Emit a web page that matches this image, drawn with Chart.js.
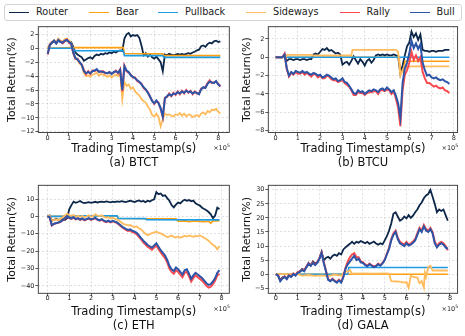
<!DOCTYPE html>
<html lang="en">
<head>
<meta charset="UTF-8">
<title>Total Return</title>
<script src="https://cdn.jsdelivr.net/npm/chart.js"></script>
<style>
  body { margin: 0; width: 465px; height: 336px; background: #fff; position: relative; overflow: hidden; font-family: "DejaVu Sans", sans-serif; }
  #legend { position: absolute; left: 4px; top: 4px; width: 456px; height: 15px; border: 1px solid #d4d4d4; border-radius: 3px; background: #fff; }
  #legend .item { position: absolute; top: 0; line-height: 14.6px; font-size: 9.7px; color: #222; white-space: nowrap; }
  #legend .item i { position: absolute; left: -27px; top: 6.6px; width: 20px; height: 1.6px; }
  canvas { position: absolute; }
</style>
</head>
<body>

<div id="legend"></div>
<canvas id="chartA" width="235" height="150" style="left:0;top:22px"></canvas>
<canvas id="chartB" width="230" height="150" style="left:235px;top:22px"></canvas>
<canvas id="chartC" width="235" height="164" style="left:0;top:172px"></canvas>
<canvas id="chartD" width="230" height="164" style="left:235px;top:172px"></canvas>

<script>
// ---- data (x in units of 1e5 s, y in %) ----
const seriesNames = ['Router', 'Bear', 'Pullback', 'Sideways', 'Rally', 'Bull'];
const xTicks = [0, 1, 2, 3, 4, 5, 6, 7, 8];

// (a) BTCT
const tA = [0,0.1,0.2,0.3,0.4,0.5,0.6,0.7,0.8,0.9,1,1.1,1.2,1.3,1.4,1.5,1.6,1.7,1.8,1.9,2,2.1,2.2,2.3,2.4,2.5,2.6,2.7,2.8,2.9,3,3.1,3.2,3.3,3.4,3.5,3.6,3.7,3.8,3.9,4,4.1,4.2,4.3,4.4,4.5,4.6,4.7,4.8,4.9,5,5.1,5.2,5.3,5.4,5.5,5.6,5.7,5.8,5.9,6,6.1,6.2,6.3,6.4,6.5,6.6,6.7,6.8,6.9,7,7.1,7.2,7.3,7.4,7.5,7.6,7.7,7.8,7.9,8,8.1];
const routerA = [0,0.5,0.8,1.0,0.7,1.1,0.9,0.8,1.0,1.2,1.0,0.9, 0.2,-0.6,-0.9,-1.1,-1.3,-1.8,-1.6,-1.4,-1.3,-1.5,-1.1,-0.9, -1.0,-0.8,-0.9,-0.7,-0.8,-0.6,-0.7,-0.5,-0.6,-0.4,-0.3,-0.4, 1.4,2.0,2.2,1.7,1.9,1.8,1.9,1.5,0.4,-1.0,-0.7,-1.2, -0.9,-1.3,-1.5,-1.2,-1.6,-2.0,-3.3,-0.9,-1.0,-0.8,-0.9,-1.0, -0.9,-0.8,-0.9,-0.8,-0.9,-0.8,-0.7,-0.8,-0.6,-0.5,-0.3,-0.2, 0.3,0.4,0.2,0.6,0.8,0.7,1.0,1.1,0.9,1.0];
const sidewaysA = [0,0.6,0.9,1.2,0.9,1.4,1.1,1.0,1.3,1.4,1.1,0.8, -0.5,-1.5,-1.7,-2.2,-2.5,-3.6,-4.0,-3.9,-4.1,-3.8,-3.7,-3.5, -3.9,-3.7,-3.8,-3.9,-4.1,-3.9,-4.2,-3.9,-3.8,-4.0,-3.6,-7.3, -4.8,-5.4,-5.2,-5.8,-5.6,-6.2,-6.5,-6.8,-7.3,-7.6,-7.8,-8.4, -8.8,-9.6,-9.8,-9.4,-9.9,-11.2,-10.2,-9.4,-9.6,-9.5,-9.7,-9.8, -9.5,-9.6,-9.3,-9.7,-9.4,-9.8,-9.5,-9.6,-9.9,-9.7,-9.6,-9.8, -9.4,-9.2,-9.5,-9.0,-9.2,-8.8,-8.9,-8.7,-9.1,-9.4];
const rallyA = [-0.9,0.4,0.9,1.0,0.8,1.1,1.0,0.7,1.0,1.3,0.8,0.6, -0.7,-1.5,-1.5,-2.1,-2.3,-3.1,-3.7,-3.3,-3.7,-3.2,-3.3,-3.1, -3.3,-3.4,-3.3,-3.6,-3.5,-3.5,-3.6,-3.5,-3.2,-3.6,-3.0,-6.2, -2.5,-3.3,-3.5,-3.8,-4.2,-4.2,-4.7,-4.9,-5.1,-5.7,-6.0,-6.3, -7.0,-7.5,-8.0,-7.6,-7.8,-8.7,-9.9,-7.1,-7.0,-6.5,-6.9,-6.4, -6.7,-6.2,-6.6,-6.1,-6.5,-6.0,-6.4,-6.1,-6.6,-6.2,-6.5,-6.5, -5.8,-5.7,-5.6,-5.0,-4.6,-5.0,-4.9,-4.8,-5.1,-5.5];
const bullA = [-0.8,0.5,0.8,1.1,0.7,1.2,0.9,0.8,1.1,1.2,0.9,0.7, -0.6,-1.4,-1.6,-2.0,-2.4,-3.3,-3.6,-3.4,-3.6,-3.3,-3.2,-3.0, -3.4,-3.3,-3.4,-3.5,-3.6,-3.4,-3.7,-3.4,-3.3,-3.5,-3.1,-6.0, -2.6,-3.2,-3.4,-3.9,-4.1,-4.3,-4.6,-4.8,-5.2,-5.6,-5.9,-6.4, -6.9,-7.6,-7.9,-7.5,-7.9,-8.6,-9.8,-7.2,-6.9,-6.6,-6.8,-6.5, -6.6,-6.3,-6.5,-6.2,-6.4,-6.1,-6.3,-6.2,-6.5,-6.3,-6.4,-6.6, -5.9,-5.6,-5.7,-5.1,-4.8,-4.9,-5.0,-4.7,-5.2,-5.4];
const bearTA = [0, 1.2, 1.25, 3.55, 3.6, 5.4, 5.45, 8.1];
const bearA = [0, 0.1, 0.1, 0.1, -0.75, -0.8, -1.05, -1.05];
const pullTA = [0, 1.2, 1.25, 3.55, 3.6, 5.4, 5.45, 8.1];
const pullA = [0, 0, -0.35, -0.35, -1.05, -1.05, -1.3, -1.3];
const yTicksA = [-12, -10, -8, -6, -4, -2, 0, 2];

// (b) BTCU
const tB = [0,0.1,0.2,0.3,0.4,0.5,0.6,0.7,0.8,0.9,1,1.1,1.2,1.3,1.4,1.5,1.6,1.7,1.8,1.9,2,2.1,2.2,2.3,2.4,2.5,2.6,2.7,2.8,2.9,3,3.1,3.2,3.3,3.4,3.5,3.6,3.7,3.8,3.9,4,4.1,4.2,4.3,4.4,4.5,4.6,4.7,4.8,4.9,5,5.1,5.2,5.3,5.4,5.5,5.6,5.7,5.8,5.9,6,6.1,6.2,6.3,6.4,6.5,6.6,6.7,6.8,6.9,7,7.1,7.2,7.3,7.4,7.5,7.6,7.7,7.8];
const routerB = [0,0,0,0,0.1,-0.4,-0.2,-0.2,-0.3,-0.2,-0.2,-0.3, -0.2,-0.2,-0.3,-0.2,-0.2,0.3,0.4,0.3,0.6,0.9,0.8,1.0, 0.7,0.8,0.6,0.4,0.5,0.3,-0.8,-0.6,-0.5,-0.8,-0.4,0.1, -0.3,-0.7,-0.2,-0.5,-0.9,-0.4,-0.2,-0.6,-0.3,0.2,0.3,0.2, 0.3,0.2,0.3,0.2,0.2,0.3,0.2,0.1,-1.8,-0.9,0.2,1.2, 1.6,2.8,2.2,2.6,1.9,2.5,0.8,0.7,0.7,0.6,0.7,0.7, 0.6,0.7,0.7,0.7,0.8,0.8,0.8];
const rallyB = [0,0,0,0,0.4,-1.3,-2.1,-1.7,-1.9,-1.6,-1.8,-1.8, -1.6,-1.9,-1.7,-1.9,-2.1,-1.8,-1.9,-2.2,-2.0,-2.3,-2.3,-2.0, -2.1,-2.4,-2.5,-2.5,-2.7,-2.6,-2.5,-2.8,-3.0,-3.2,-3.6,-4.1, -4.1,-3.8,-3.9,-3.9,-4.1,-3.9,-3.8,-3.8,-3.7,-3.7,-4.0,-3.6, -3.6,-3.7,-3.5,-3.6,-4.0,-3.7,-4.5,-5.5,-7.5,-3.6,-1.9,-1.4, -0.6,0.6,-0.3,0.2,-0.4,0.0,-1.6,-2.3,-2.8,-2.8,-3.0,-3.2, -3.1,-3.3,-3.4,-3.3,-3.6,-3.7,-3.9];
const bullB = [0,0,0,0,0.3,-1.2,-2.0,-1.6,-1.8,-1.5,-1.6,-1.7, -1.5,-1.7,-1.6,-1.8,-1.9,-1.7,-1.8,-2.0,-1.9,-2.2,-2.1,-1.9, -2.0,-2.2,-2.4,-2.3,-2.6,-2.5,-2.3,-2.7,-2.8,-3.1,-3.5,-3.9, -4.0,-3.6,-3.8,-3.7,-4.0,-3.8,-3.6,-3.7,-3.5,-3.6,-3.8,-3.5, -3.4,-3.6,-3.3,-3.5,-3.8,-3.6,-4.2,-5.0,-6.6,-2.8,-1.2,-0.6, 0.4,1.8,1.0,1.5,0.9,1.4,-0.6,-1.4,-2.0,-1.9,-2.2,-2.3, -2.2,-2.4,-2.5,-2.4,-2.6,-2.7,-2.9];
const sidewaysTB = [0, 0.45, 0.5, 1.6, 1.65, 3.4, 3.45, 5.4, 5.5, 5.6, 5.7, 5.8, 5.9, 6.0, 7.8];
const sidewaysB = [0, 0, 0.25, 0.25, 0.2, 0.2, 0.8, 0.8, 0.6, -2.0, -1.4, -0.9, -1.2, -1.0, -1.0];
const bearTB = [0, 5.55, 5.6, 5.75, 5.8, 7.8];
const bearB = [0, 0, -1.7, -1.5, -0.43, -0.43];
const pullTB = [0, 7.8];
const pullB = [0, 0];
const yTicksB = [-8, -6, -4, -2, 0, 2];

// (c) ETH
const tC = [0,0.1,0.2,0.3,0.4,0.5,0.6,0.7,0.8,0.9,1,1.1,1.2,1.3,1.4,1.5,1.6,1.7,1.8,1.9,2,2.1,2.2,2.3,2.4,2.5,2.6,2.7,2.8,2.9,3,3.1,3.2,3.3,3.4,3.5,3.6,3.7,3.8,3.9,4,4.1,4.2,4.3,4.4,4.5,4.6,4.7,4.8,4.9,5,5.1,5.2,5.3,5.4,5.5,5.6,5.7,5.8,5.9,6,6.1,6.2,6.3,6.4,6.5,6.6,6.7,6.8,6.9,7,7.1,7.2,7.3,7.4,7.5,7.6,7.7,7.8,7.9];
const routerC = [0,0.5,-2.5,-2.0,-1.5,-2.0,-1.8,-1.5,-2.0,-1.0,4.0,6.5, 8.5,7.8,8.3,8.9,8.0,7.6,7.9,8.2,7.8,8.1,8.4,8.0, 8.3,8.5,8.2,8.6,8.3,8.1,8.5,8.2,8.6,8.4,8.8,8.5, 8.2,8.7,9.0,8.6,8.3,8.8,9.2,8.5,8.9,8.2,9.0,8.6, 9.3,9.8,14.0,12.8,13.2,11.8,12.2,10.5,9.0,6.5,5.2,6.8, 8.0,7.5,8.8,9.6,9.0,9.4,8.7,9.1,7.5,6.8,6.2,5.0, 4.2,3.5,2.5,1.2,-1.0,0.5,5.0,4.3];
const sidewaysC = [0,0.3,-2.5,-2.0,-1.8,-2.2,-1.5,-0.5,0.5,1.5,0.8,0.3, 0.8,-0.2,0.4,-0.3,0.2,-0.5,0.1,0.6,-0.2,0.3,1.2,0.5, 0.2,0.6,-0.3,-0.8,-0.5,-1.2,-0.8,-1.5,-1.8,-2.5,-3.5,-4.5, -4.8,-5.2,-5.0,-5.8,-6.2,-5.8,-6.8,-7.5,-8.8,-10.0,-10.8,-10.2, -9.6,-9.2,-8.8,-9.5,-9.8,-10.5,-11.2,-12.0,-11.5,-11.0,-11.8,-12.2, -11.6,-12.3,-11.8,-11.2,-11.6,-11.0,-11.4,-11.8,-11.2,-11.5,-11.0,-11.6, -12.4,-13.2,-14.0,-15.2,-16.5,-17.2,-19.0,-17.0];
const rallyC = [0,-0.6,-5.3,-4.4,-4.0,-3.7,-3.1,-2.4,-1.2,0.0,-1.0,-1.4, -0.8,-1.7,-1.3,-2.0,-1.5,-2.3,-1.7,-1.3,-2.0,-1.6,-1.1,-2.0, -2.5,-1.9,-2.8,-3.3,-2.8,-3.5,-2.9,-3.3,-3.9,-4.9,-6.0,-7.0, -7.8,-8.4,-8.2,-9.0,-9.5,-10.3,-11.8,-13.3,-14.9,-16.2,-17.5,-18.3, -19.2,-18.0,-16.8,-18.8,-20.8,-22.5,-24.0,-26.5,-30.0,-32.0,-33.0,-31.0, -32.0,-33.5,-35.0,-32.5,-32.0,-34.5,-37.5,-35.5,-34.0,-35.0,-36.0,-37.0, -38.5,-40.0,-41.0,-40.5,-39.0,-37.0,-34.0,-33.0];
const bullC = [0,-0.5,-5.0,-4.2,-3.8,-3.5,-3.0,-2.2,-1.0,0.2,-0.8,-1.2, -0.5,-1.5,-1.0,-1.8,-1.2,-2.0,-1.5,-1.0,-1.8,-1.3,-0.8,-1.8, -2.2,-1.6,-2.5,-3.0,-2.4,-3.2,-2.6,-3.0,-3.5,-4.5,-5.5,-6.5, -7.2,-7.8,-7.5,-8.3,-8.8,-9.5,-11.0,-12.5,-14.0,-15.2,-16.5,-17.2, -18.0,-16.8,-15.5,-17.5,-19.5,-21.0,-22.5,-25.0,-28.5,-30.5,-31.5,-29.5, -30.5,-32.0,-33.5,-31.0,-30.5,-33.0,-36.0,-34.0,-32.5,-33.5,-34.5,-35.5, -37.0,-38.5,-39.5,-39.0,-37.5,-35.5,-32.5,-31.0];
const bearTC = [0, 0.9, 1.0, 3.2, 3.25, 5.9, 6.0, 6.3, 6.5, 6.8, 7.0, 7.2, 7.4, 7.5, 7.6, 7.8, 7.9];
const bearC = [0, 0, 0.3, 0.3, -1.2, -1.4, -2.8, -2.6, -3.0, -2.7, -2.9, -3.1, -2.8, -4.0, -2.5, -2.6, -2.4];
const pullTC = [0, 0.9, 1.0, 3.2, 3.25, 4.5, 4.55, 7.9];
const pullC = [0, 0, 0.3, 0.3, -1.2, -1.3, -1.9, -2.0];
const yTicksC = [-40, -30, -20, -10, 0, 10];

// (d) GALA
const tD = [0,0.1,0.2,0.3,0.4,0.5,0.6,0.7,0.8,0.9,1,1.1,1.2,1.3,1.4,1.5,1.6,1.7,1.8,1.9,2,2.1,2.2,2.3,2.4,2.5,2.6,2.7,2.8,2.9,3,3.1,3.2,3.3,3.4,3.5,3.6,3.7,3.8,3.9,4,4.1,4.2,4.3,4.4,4.5,4.6,4.7,4.8,4.9,5,5.1,5.2,5.3,5.4,5.5,5.6,5.7,5.8,5.9,6,6.1,6.2,6.3,6.4,6.5,6.6,6.7,6.8,6.9,7,7.1,7.2,7.3,7.4,7.5,7.6,7.7,7.8,7.9];
const routerD = [0,-0.5,-2.0,-1.2,-0.8,-1.5,-0.3,-0.8,0.2,-0.3,0.5,1.0, 1.8,1.5,2.5,3.5,3.0,4.5,3.8,4.2,5.5,8.0,5.0,5.8, 6.2,5.5,6.5,7.0,6.5,7.5,7.0,8.8,9.5,10.2,10.8,11.5, 10.8,11.5,11.2,11.8,11.4,11.0,11.5,10.8,11.2,11.6,10.9,10.5, 11.0,10.6,12.0,13.5,15.5,18.0,21.5,22.0,20.5,19.0,19.5,20.5, 19.8,21.0,20.0,20.8,22.0,23.0,24.5,25.5,27.0,28.0,28.5,30.0, 27.5,25.0,22.0,23.0,22.5,23.0,21.0,19.0];
const rallyD = [0,-0.4,-2.3,-1.4,-0.9,-1.6,-0.4,-0.8,0.2,-0.3,0.7,1.0, 1.7,1.2,2.7,4.0,3.2,4.2,3.4,4.2,5.7,7.7,4.2,1.2, -1.8,-2.3,-1.6,-2.3,-2.8,-2.0,-2.8,-0.8,2.3,4.5,6.0,7.0, 7.5,6.0,6.0,4.5,4.3,3.5,3.0,3.8,3.2,2.8,3.0,3.8, 3.2,4.0,5.2,7.3,9.3,12.5,14.5,15.5,13.0,11.5,11.0,10.5, 11.5,10.5,11.0,11.6,12.5,14.5,16.5,15.5,17.5,16.0,15.5,16.5, 15.0,11.5,10.0,11.0,11.5,11.0,10.0,8.5];
const bullD = [0,-0.5,-2.5,-1.5,-1.0,-1.8,-0.5,-1.0,0.0,-0.5,0.5,0.8, 1.5,1.0,2.5,3.8,3.0,4.0,3.2,4.0,5.5,7.5,4.0,1.0, -2.0,-2.5,-1.8,-2.5,-3.0,-2.2,-3.0,-1.0,2.0,3.5,4.5,5.5, 6.5,5.0,5.5,4.2,4.0,3.2,2.8,3.5,3.0,2.5,2.8,3.5, 3.0,3.8,5.0,7.0,9.0,12.0,14.0,15.0,12.5,11.0,10.5,10.0, 11.0,10.2,10.5,11.2,12.0,14.0,16.0,15.0,17.0,15.5,15.0,16.0, 14.5,11.0,9.5,10.5,11.0,10.5,9.5,9.0];
const sidewaysTD = [0, 1.0, 1.2, 1.5, 1.8, 2.1, 2.4, 2.7, 3.0, 3.2, 3.3, 3.4, 3.5, 4.0, 4.5, 5.0, 5.2, 5.3, 5.6, 5.9, 6.0, 6.1, 6.2, 6.3, 6.5, 6.6, 6.7, 6.8, 6.85, 6.9, 7.0, 7.1, 7.2, 7.9];
const sidewaysD = [0, 0, -0.5, -0.3, -0.6, -0.4, -0.7, -0.2, -0.5, 1.2, 0.8, 1.5, 0.2, 0.3, 0.2, 0.3, 0.2, -2.5, -2.6, -3.0, -2.8, -4.8, -0.5, -1.0, -1.2, -3.2, -2.5, -4.8, 0.5, -1.0, 2.5, 3.0, 1.3, 1.3];
const bearTD = [0, 7.9];
const bearD = [0, 0];
const pullTD = [0, 3.3, 3.35, 7.9];
const pullD = [0, 0, 2.4, 2.4];
const yTicksD = [-5, 0, 5, 10, 15, 20, 25, 30];

// ---- styling ----
const FONT = '"DejaVu Sans", sans-serif';
const colors = ['#0c2749', '#ffa010', '#1d9be3', '#ffbb5c', '#fb4a4f', '#2c55a8'];
const widths = [1.8, 1.6, 1.6, 1.8, 2.0, 2.0];

// legend (html, real text)
const legendX = [31, 111, 180, 268, 361.5, 431.5];
const legend = document.getElementById('legend');
seriesNames.forEach((name, i) => {
    const s = document.createElement('span');
    s.className = 'item';
    s.style.left = legendX[i] + 'px';
    s.innerHTML = '<i style="background:' + colors[i] + '"></i>' + name;
    legend.appendChild(s);
});

function pts(xs, ys) {
    return xs.map((x, i) => ({ x: x, y: ys[i] }));
}

function fmt(v) {
    return String(v).replace('-', '\u2212');
}

const framePlugin = {
    id: 'frame',
    afterDatasetsDraw(chart) {
        const a = chart.chartArea, c = chart.ctx;
        c.save();
        c.strokeStyle = '#333';
        c.lineWidth = 0.9;
        c.strokeRect(a.left, a.top, a.right - a.left, a.bottom - a.top);
        // x offset label (x10^5)
        c.fillStyle = '#222';
        c.textAlign = 'right';
        c.textBaseline = 'alphabetic';
        const y = a.bottom + 17.5;
        c.font = '4.6px ' + FONT;
        c.fillText('5', a.right + 0.5, y - 3);
        const w = c.measureText('5').width;
        c.font = '6.5px ' + FONT;
        c.fillText('\u00d710', a.right + 0.5 - w, y);
        c.restore();
    }
};

function makePanel(id, p) {
    const lines = [
        { label: 'Router', data: pts(p.t, p.router), order: 5 },
        { label: 'Bear', data: pts(p.bearT, p.bear), order: 4 },
        { label: 'Pullback', data: pts(p.pullT, p.pull), order: 3 },
        { label: 'Sideways', data: pts(p.sideT, p.side), order: 2 },
        { label: 'Rally', data: pts(p.t, p.rally), order: 1 },
        { label: 'Bull', data: pts(p.t, p.bull), order: 0 }
    ];
    const gridOpts = { color: '#cacaca', lineWidth: 0.6, tickLength: 3, tickColor: '#333', tickWidth: 0.8 };

    new Chart(document.getElementById(id), {
        type: 'line',
        data: {
            datasets: lines.map((d, i) => Object.assign({
                borderColor: colors[i],
                borderWidth: widths[i],
                borderJoinStyle: 'miter',
                pointRadius: 0,
                fill: false,
                tension: 0
            }, d))
        },
        options: {
            animation: false,
            responsive: false,
            layout: { padding: { top: p.padTop, right: p.padRight, left: 0, bottom: 0 } },
            plugins: { legend: { display: false }, tooltip: { enabled: false } },
            scales: {
                x: {
                    type: 'linear',
                    min: p.xMin,
                    max: p.xMax,
                    afterBuildTicks: s => { s.ticks = xTicks.map(v => ({ value: v })); },
                    afterFit: s => { s.height = p.xAxisH; },
                    grid: gridOpts,
                    border: { display: false, dash: [2, 2] },
                    ticks: { font: { size: 6.5, family: FONT }, color: '#222', padding: -1.5, maxRotation: 0, autoSkip: false, callback: v => fmt(v) },
                    title: {
                        display: true,
                        text: ['Trading Timestamp(s)', p.caption],
                        color: '#111',
                        font: { size: 11.5, family: FONT, lineHeight: '14px' },
                        padding: { top: 0, bottom: p.capPad }
                    }
                },
                y: {
                    min: p.yMin,
                    max: p.yMax,
                    afterBuildTicks: s => { s.ticks = p.yTicks.map(v => ({ value: v })); },
                    afterFit: s => { s.width = p.yAxisW; },
                    grid: gridOpts,
                    border: { display: false, dash: [2, 2] },
                    ticks: { font: { size: 6.5, family: FONT }, color: '#222', padding: 0.8, autoSkip: false, callback: v => fmt(v) },
                    title: {
                        display: true,
                        text: 'Total Return(%)',
                        color: '#111',
                        font: { size: 11, family: FONT, lineHeight: '14px' },
                        padding: { top: 5.2, bottom: 0 }
                    }
                }
            }
        },
        plugins: [framePlugin]
    });
}

makePanel('chartA', {
    t: tA, router: routerA, rally: rallyA, bull: bullA,
    sideT: tA, side: sidewaysA, bearT: bearTA, bear: bearA, pullT: pullTA, pull: pullA,
    xMin: -0.44, xMax: 8.52, yMin: -12.1, yMax: 3.1, yTicks: yTicksA,
    caption: '(a) BTCT', padTop: 2.7, padRight: 5.7, yAxisW: 38.3, xAxisH: 39.5, capPad: 2
});
makePanel('chartB', {
    t: tB, router: routerB, rally: rallyB, bull: bullB,
    sideT: sidewaysTB, side: sidewaysB, bearT: bearTB, bear: bearB, pullT: pullTB, pull: pullB,
    xMin: -0.33, xMax: 8.17, yMin: -8.2, yMax: 3.33, yTicks: yTicksB,
    caption: '(b) BTCU', padTop: 2.7, padRight: 7.4, yAxisW: 33.3, xAxisH: 39.5, capPad: 2
});
makePanel('chartC', {
    t: tC, router: routerC, rally: rallyC, bull: bullC,
    sideT: tC, side: sidewaysC, bearT: bearTC, bear: bearC, pullT: pullTC, pull: pullC,
    xMin: -0.42, xMax: 8.35, yMin: -44.3, yMax: 17.9, yTicks: yTicksC,
    caption: '(c) ETH', padTop: 13.3, padRight: 5.7, yAxisW: 38.3, xAxisH: 42.7, capPad: 3.2
});
makePanel('chartD', {
    t: tD, router: routerD, rally: rallyD, bull: bullD,
    sideT: sidewaysTD, side: sidewaysD, bearT: bearTD, bear: bearD, pullT: pullTD, pull: pullD,
    xMin: -0.35, xMax: 8.35, yMin: -6.8, yMax: 31.6, yTicks: yTicksD,
    caption: '(d) GALA', padTop: 13.3, padRight: 7.4, yAxisW: 33.3, xAxisH: 42.7, capPad: 3.2
});
</script>
</body>
</html>
